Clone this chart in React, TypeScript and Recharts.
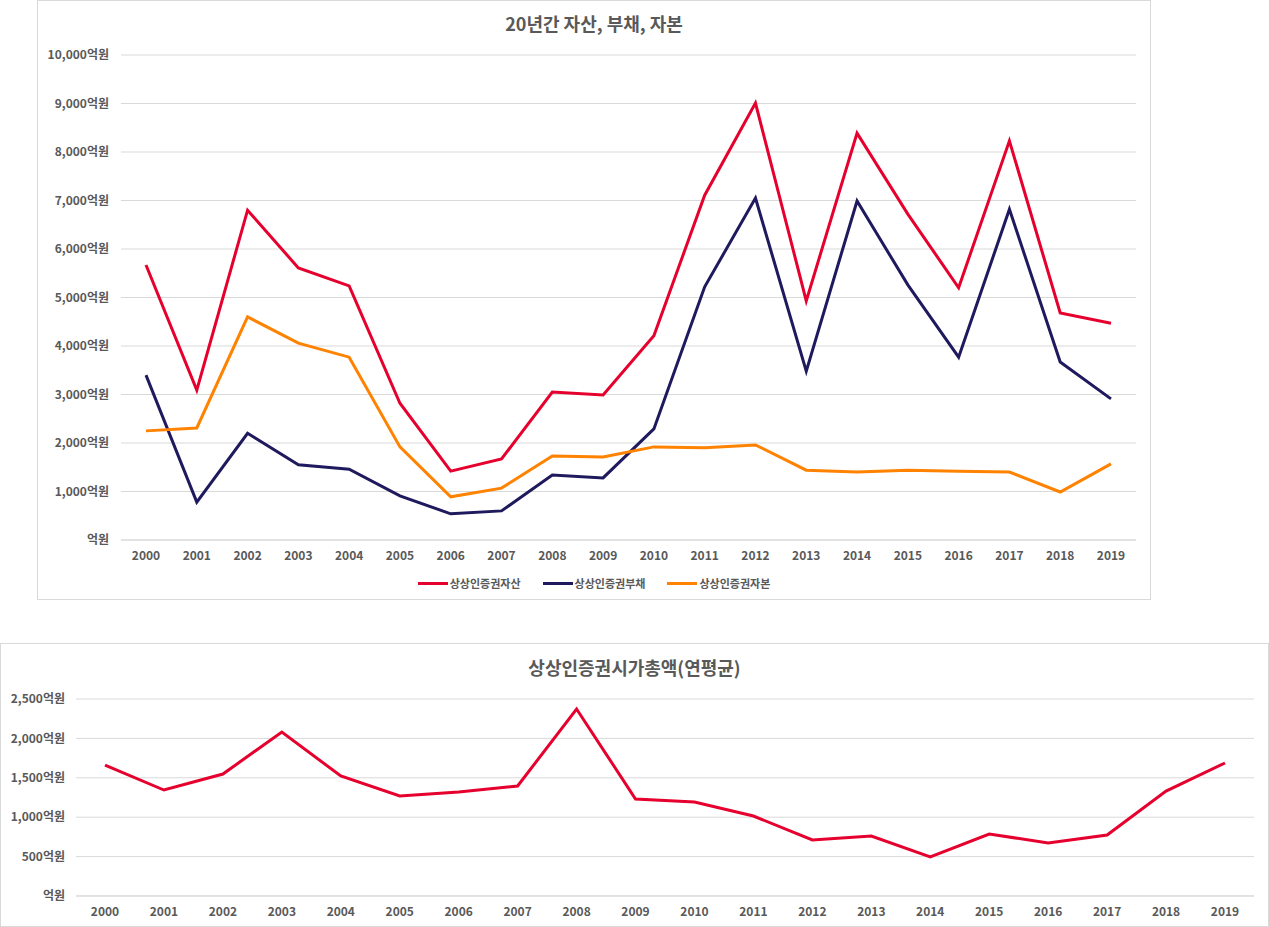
import { LineChart, Line, XAxis, YAxis, CartesianGrid } from "recharts";

const years = [
  "2000", "2001", "2002", "2003", "2004", "2005", "2006", "2007", "2008", "2009",
  "2010", "2011", "2012", "2013", "2014", "2015", "2016", "2017", "2018", "2019",
];

// 억원
const assets = [5670, 3090, 6800, 5610, 5240, 2820, 1420, 1670, 3050, 2990, 4210, 7110, 9010, 4930, 8390, 6720, 5200, 8230, 4680, 4470];
const debts = [3400, 780, 2200, 1550, 1460, 910, 540, 600, 1340, 1280, 2290, 5220, 7050, 3480, 6990, 5260, 3770, 6820, 3670, 2910];
const equity = [2250, 2310, 4600, 4060, 3770, 1920, 890, 1070, 1730, 1710, 1920, 1900, 1960, 1440, 1400, 1440, 1420, 1400, 990, 1570];
const marketCap = [1662, 1345, 1548, 2081, 1523, 1269, 1320, 1396, 2373, 1231, 1193, 1015, 711, 761, 495, 787, 673, 774, 1332, 1688];

const topTicks = [0, 1000, 2000, 3000, 4000, 5000, 6000, 7000, 8000, 9000, 10000];
const bottomTicks = [0, 500, 1000, 1500, 2000, 2500];

const series = [
  { key: "assets", name: "상상인증권자산", color: "#E6002D" },
  { key: "debts", name: "상상인증권부채", color: "#1F1A5E" },
  { key: "equity", name: "상상인증권자본", color: "#FF8200" },
];

const FONT = '"Noto Sans CJK KR", "Noto Sans", sans-serif';
const GRID = "#d9d9d9";
const TEXT = "#595959";

const fmt = (v: number) => (v === 0 ? "억원" : `${v.toLocaleString("en-US")}억원`);

const topData = years.map((y, i) => ({ year: y, assets: assets[i], debts: debts[i], equity: equity[i] }));
const bottomData = years.map((y, i) => ({ year: y, cap: marketCap[i] }));

const tickStyle = { fill: TEXT, fontSize: 12, fontFamily: FONT, fontWeight: 600 };

const boxStyle = (left: number, top: number, width: number, height: number): React.CSSProperties => ({
  position: "absolute",
  left,
  top,
  width,
  height,
  boxSizing: "border-box",
  border: `1px solid ${GRID}`,
  background: "#fff",
});

const titleStyle: React.CSSProperties = {
  position: "absolute",
  left: 0,
  right: 0,
  textAlign: "center",
  fontFamily: FONT,
  fontWeight: 700,
  fontSize: 18,
  color: TEXT,
  lineHeight: "24px",
};

export default function App() {
  return (
    <div style={{ position: "absolute", left: 0, top: 0, width: 1269, height: 927, fontFamily: FONT }}>
      <div style={boxStyle(37, 0, 1114, 600)}>
        <LineChart width={1112} height={598} data={topData} margin={{ top: 54, right: 14, left: 0, bottom: 29 }}>
          <CartesianGrid vertical={false} stroke={GRID} />
          <XAxis
            dataKey="year"
            axisLine={{ stroke: GRID }}
            tickLine={false}
            tickMargin={5}
            padding={{ left: 25, right: 25 }}
            tick={tickStyle}
          />
          <YAxis
            width={83}
            domain={[0, 10000]}
            ticks={topTicks}
            axisLine={false}
            tickLine={false}
            tickMargin={6}
            tickFormatter={fmt}
            tick={tickStyle}
          />
          {series.map((s) => (
            <Line
              key={s.key}
              type="linear"
              dataKey={s.key}
              name={s.name}
              stroke={s.color}
              strokeWidth={3}
              dot={false}
              isAnimationActive={false}
            />
          ))}
        </LineChart>
        <div style={{ ...titleStyle, top: 10 }}>20년간 자산, 부채, 자본</div>
        <div
          style={{
            position: "absolute",
            left: 0,
            right: 0,
            top: 574,
            display: "flex",
            justifyContent: "center",
            gap: 22,
            fontSize: 11,
            fontWeight: 600,
            color: TEXT,
            lineHeight: "16px",
          }}
        >
          {series.map((s) => (
            <div key={s.key} style={{ display: "flex", alignItems: "center", gap: 2 }}>
              <span style={{ display: "inline-block", width: 30, height: 3, background: s.color }} />
              <span>{s.name}</span>
            </div>
          ))}
        </div>
      </div>

      <div style={boxStyle(0, 643, 1269, 284)}>
        <LineChart width={1267} height={282} data={bottomData} margin={{ top: 55, right: 14, left: 0, bottom: 0 }}>
          <CartesianGrid vertical={false} stroke={GRID} />
          <XAxis
            dataKey="year"
            axisLine={{ stroke: GRID }}
            tickLine={false}
            tickMargin={5}
            padding={{ left: 29, right: 29 }}
            tick={tickStyle}
          />
          <YAxis
            width={75}
            domain={[0, 2500]}
            ticks={bottomTicks}
            axisLine={false}
            tickLine={false}
            tickMargin={5}
            tickFormatter={fmt}
            tick={tickStyle}
          />
          <Line
            type="linear"
            dataKey="cap"
            name="상상인증권시가총액(연평균)"
            stroke="#E6002D"
            strokeWidth={3}
            dot={false}
            isAnimationActive={false}
          />
        </LineChart>
        <div style={{ ...titleStyle, top: 11 }}>상상인증권시가총액(연평균)</div>
      </div>
    </div>
  );
}
